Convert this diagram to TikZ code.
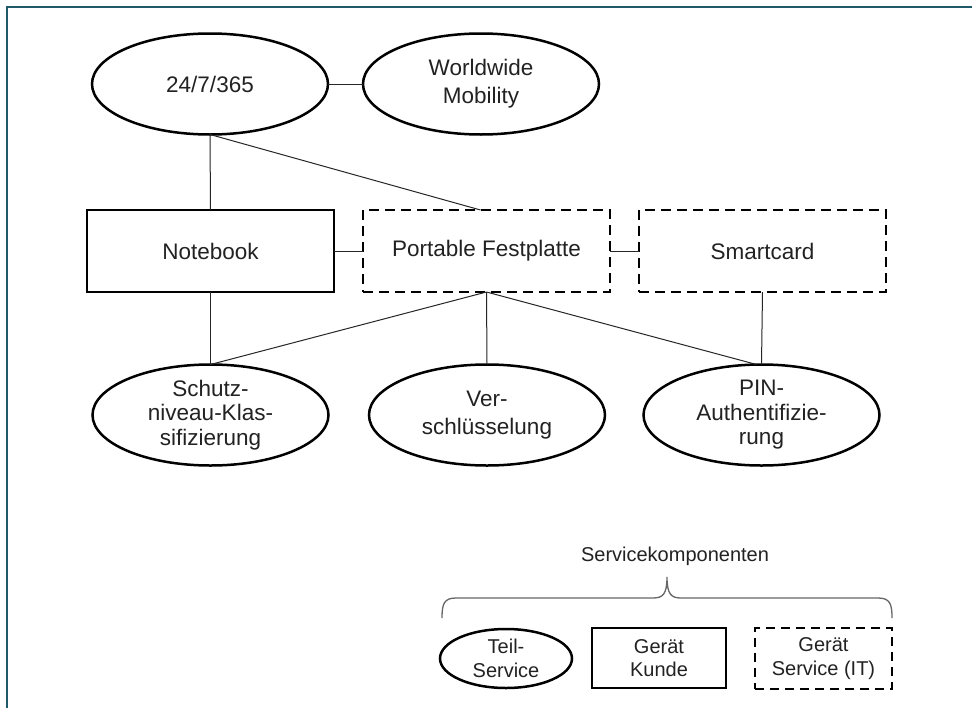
\documentclass[tikz,border=0pt]{standalone}
\usepackage{fontspec}
\setmainfont{Liberation Sans}
\usetikzlibrary{shapes.geometric}
\definecolor{frameteal}{HTML}{1F5A6B}
\definecolor{txt}{HTML}{222222}
\tikzset{
  oval/.style={ellipse, draw=black, line width=2.5pt, inner sep=0pt, outer sep=0pt,
    minimum width=236pt, minimum height=101pt, align=center, text=txt,
    font=\fontsize{22.5}{28}\selectfont},
  devbox/.style={rectangle, draw=black, line width=2.5pt, inner sep=0pt, outer sep=0pt,
    minimum width=247pt, minimum height=82pt, align=center, text=txt,
    font=\fontsize{22.5}{28}\selectfont},
  dashbox/.style={devbox, dash pattern=on 10pt off 6pt},
  link/.style={draw=black!85, line width=1pt},
  legoval/.style={oval, minimum width=132pt, minimum height=59pt, font=\fontsize{20}{23.5}\selectfont},
  legbox/.style={devbox, minimum width=134pt, minimum height=60pt, font=\fontsize{20}{23.5}\selectfont},
  legdash/.style={legbox, minimum width=137pt, minimum height=61pt, dash pattern=on 9pt off 6pt},
  bracestyle/.style={draw=black!60, line width=1.3pt},
  three/.style={font=\fontsize{22.5}{24.5}\selectfont}
}
\begin{document}
\begin{tikzpicture}[x=1pt,y=-1pt]
\useasboundingbox (0,0) rectangle (972,707);
\fill[white] (0,0) rectangle (972,707);
% frame (only left and top edges are inside the picture)
\draw[frameteal, line width=2.2pt] (7,720) -- (7,7) -- (985,7);

% top row
\node[oval] (t247) at (210,84) {24/7/365};
\node[oval] (ww) at (481,84) {Worldwide\\Mobility};

% middle row
\node[devbox] (nb) at (210.5,251) {Notebook};
\node[dashbox] (pf) at (486.5,251) {Portable Festplatte};
\node[dashbox] (sc) at (762.5,251) {Smartcard};

% bottom row
\node[oval, three] (sk) at (210.5,415) {Schutz-\\niveau-Klas-\\sifizierung};
\node[oval] (vs) at (487,415) {Ver-\\schlüsselung};
\node[oval, three] (pin) at (761.5,415) {PIN-\\Authentifizie-\\rung};

% connectors
\draw[link] (t247.east) -- (ww.west);
\draw[link] (t247.south) -- (nb.north);
\draw[link] (t247.south) -- ([xshift=-6pt]pf.north);
\draw[link] (nb.east) -- (pf.west);
\draw[link] (pf.east) -- (sc.west);
\draw[link] (nb.south) -- (sk.north);
\draw[link] (pf.south) -- (sk.north);
\draw[link] (pf.south) -- (vs.north);
\draw[link] (pf.south) -- ([xshift=-5pt]pin.north);
\draw[link] (sc.south) -- (pin.north);

% legend
\node[text=txt, font=\fontsize{20}{23.5}\selectfont] (legtitle) at (675,556) {Servicekomponenten};
\draw[bracestyle] (442,618) .. controls (442,604) and (444,598) .. (456,598) -- (653,598)
  .. controls (663,598) and (667,594) .. (667,577)
  .. controls (667,594) and (671,598) .. (681,598) -- (878,598)
  .. controls (890,598) and (892,604) .. (892,618);
\node[legoval] (lts) at (506,658.5) {Teil-\\Service};
\node[legbox] (lgk) at (659,658) {Gerät\\Kunde};
\node[legdash] (lgs) at (823.5,658.5) {Gerät\\Service (IT)};
\end{tikzpicture}
\end{document}
